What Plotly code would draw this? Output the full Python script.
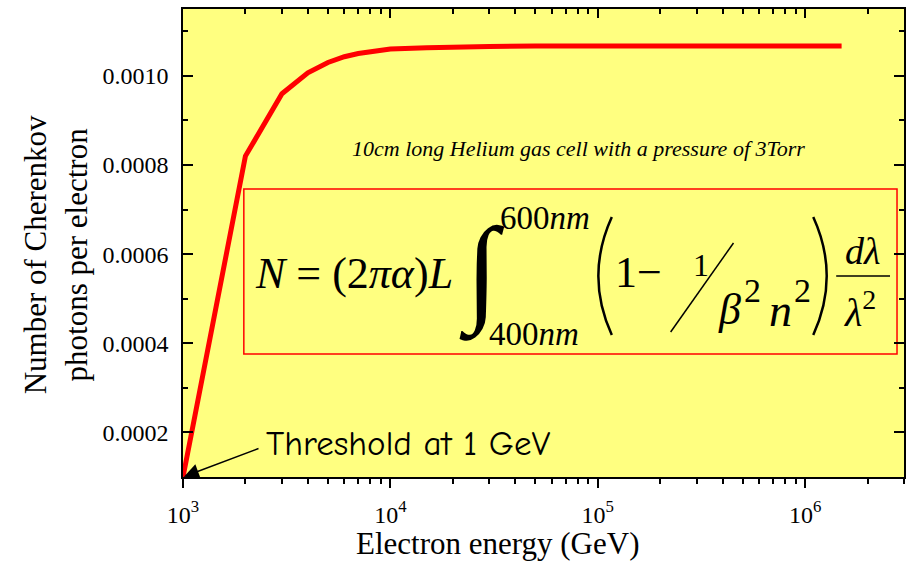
import plotly.graph_objects as go

# ---- data ----
energy_gev = [1000, 2000, 3000, 4000, 5000, 6000, 7000, 8000, 9000, 10000,
              15000, 20000, 30000, 50000, 100000, 300000, 1000000, 1500000]
photons = [0.0001, 0.00082, 0.00096, 0.001007, 0.00103, 0.001043, 0.00105,
           0.001054, 0.001057, 0.00106, 0.001063, 0.001065, 0.001066, 0.001067,
           0.001067, 0.001067, 0.001067, 0.001067]

x_major = [1e3, 1e4, 1e5, 1e6]
x_major_labels = ["10<sup>3</sup>", "10<sup>4</sup>", "10<sup>5</sup>", "10<sup>6</sup>"]
x_minor = [m * 10 ** k for k in range(3, 7) for m in range(2, 10) if m * 10 ** k <= 3e6]
x_range_log = [3, 6.477]
y_range = [0.0001, 0.00115]

YELLOW = "#FFFF80"
SERIF = "Liberation Serif, Times New Roman, serif"

# plot area in pixels: left 183, right 906, top 9, bottom 477
L, R, T, B = 183, 906, 9, 477
def px(x):
    return (x - L) / (R - L)
def py(y):
    return (B - y) / (B - T)

fig = go.Figure()
fig.add_trace(go.Scatter(x=energy_gev, y=photons, mode="lines",
                         line=dict(color="#FF0000", width=5),
                         showlegend=False, hoverinfo="skip"))
# invisible trace to activate the top axis
fig.add_trace(go.Scatter(x=energy_gev, y=photons, xaxis="x2", mode="lines",
                         line=dict(width=0, color="rgba(0,0,0,0)"),
                         showlegend=False, hoverinfo="skip"))

ann = []
def txt(text, x, y, size, family=SERIF, **kw):
    ann.append(dict(text=text, x=px(x), y=py(y), xref="paper", yref="paper",
                    showarrow=False, xanchor="center", yanchor="middle",
                    font=dict(family=family, size=size, color="black"), **kw))

# axis titles
txt("Electron energy (GeV)", 498, 543, 31)
txt("Number of Cherenkov<br>photons per electron", 55, 255, 31, textangle=-90)

# subtitle
txt("<i>10cm long Helium gas cell with a pressure of 3Torr</i>", 580, 148, 22)

# threshold label + arrow
txt("Threshold at 1 GeV", 409, 443, 35, family="Comic Sans MS, Comic Neue, Lato, sans-serif")
ann.append(dict(text="", x=3, y=photons[0], xref="x", yref="y",
                ax=77, ay=-29, axref="pixel", ayref="pixel",
                showarrow=True, arrowhead=2, arrowsize=2, arrowwidth=1.5,
                arrowcolor="black", standoff=1))

# formula
txt("<i>N</i> = (2<i>πα</i>)<i>L</i>", 354, 273, 44)
txt("<b>∫</b>", 483, 272, 118)
txt("600<i>nm</i>", 546, 218, 33)
txt("400<i>nm</i>", 535, 334, 33)
txt("1−", 640, 272, 44)
txt("1", 702, 265, 32)
txt("<i>β</i>", 731, 310, 44)
txt("2", 754, 290, 34)
txt("<i>n</i>", 782, 311, 46)
txt("2", 804, 290, 34)
txt("<i>dλ</i>", 864, 251, 38)
txt("<i>λ</i><sup>2</sup>", 862, 309, 40)

shapes = [
    dict(type="rect", xref="paper", yref="paper", x0=px(244), x1=px(899),
         y0=py(354), y1=py(189), line=dict(color="#FF0000", width=1.5),
         fillcolor=YELLOW, layer="below"),
    # big parentheses
    dict(type="path", xref="paper", yref="paper",
         path=f"M {px(613)},{py(217)} Q {px(586)},{py(276)} {px(613)},{py(335)}",
         line=dict(color="black", width=2.5)),
    dict(type="path", xref="paper", yref="paper",
         path=f"M {px(815)},{py(217)} Q {px(842)},{py(276)} {px(815)},{py(335)}",
         line=dict(color="black", width=2.5)),
    # slash
    dict(type="line", xref="paper", yref="paper", x0=px(672), y0=py(332),
         x1=px(735), y1=py(243), line=dict(color="black", width=1.5)),
    # fraction bar
    dict(type="line", xref="paper", yref="paper", x0=px(838), y0=py(276),
         x1=px(892), y1=py(276), line=dict(color="black", width=1.5)),
]

fig.update_layout(
    width=913, height=562, autosize=False,
    margin=dict(l=L, r=913 - R, t=T, b=562 - B, pad=0),
    paper_bgcolor="white", plot_bgcolor=YELLOW,
    annotations=ann, shapes=shapes,
    xaxis=dict(type="log", range=x_range_log, tickmode="array",
               tickvals=x_major, ticktext=x_major_labels,
               ticks="outside", ticklen=9, tickwidth=1.5, tickcolor="black",
               showline=True, linecolor="black", linewidth=1.5,
               showgrid=False, zeroline=False,
               tickfont=dict(family=SERIF, size=24, color="black"),
               ticklabelstandoff=6,
               minor=dict(tickmode="array", tickvals=x_minor, ticks="outside",
                          ticklen=5, tickwidth=1.5, tickcolor="black", showgrid=False)),
    xaxis2=dict(type="log", range=x_range_log, overlaying="x", side="top",
                tickmode="array", tickvals=x_major, showticklabels=False,
                ticks="inside", ticklen=9, tickwidth=1.5, tickcolor="black",
                showline=True, linecolor="black", linewidth=1.5,
                showgrid=False, zeroline=False,
                minor=dict(tickmode="array", tickvals=x_minor, ticks="inside",
                           ticklen=5, tickwidth=1.5, tickcolor="black", showgrid=False)),
    yaxis=dict(range=y_range, tick0=0, dtick=0.0002, tickformat=".4f",
               ticks="inside", ticklen=10, tickwidth=1.5, tickcolor="black",
               showline=True, linecolor="black", linewidth=1.5, mirror="ticks",
               showgrid=False, zeroline=False,
               tickfont=dict(family=SERIF, size=24, color="black"),
               ticklabelstandoff=8,
               minor=dict(tick0=0, dtick=0.0001, ticks="inside", ticklen=5,
                          tickwidth=1.5, tickcolor="black", showgrid=False)),
)

fig.write_html("out.html", config={"displayModeBar": False},
               post_script="document.body.style.margin='0';document.body.style.overflow='hidden';")
